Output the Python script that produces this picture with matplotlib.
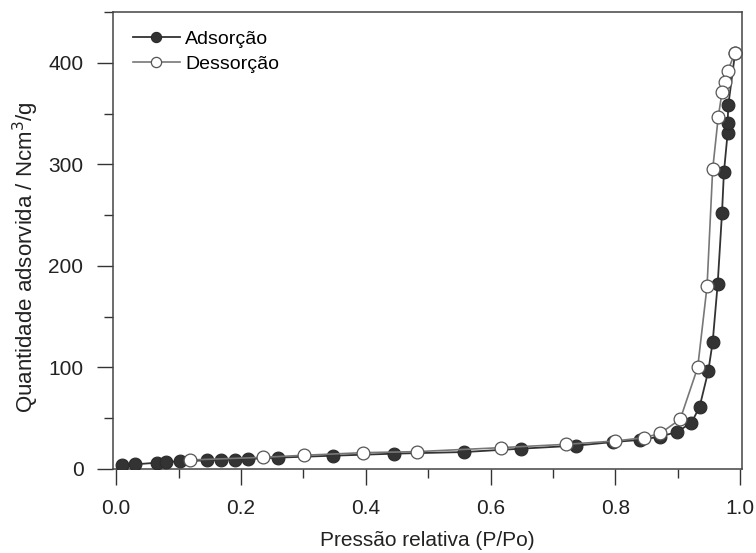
import matplotlib
matplotlib.use("Agg")
import matplotlib.pyplot as plt
from matplotlib.ticker import MultipleLocator

plt.rcParams['font.family'] = ['Liberation Sans', 'DejaVu Sans']

# Adsorption branch (P/Po, quantity)
ads_x = [0.010, 0.030, 0.066, 0.080, 0.103, 0.146, 0.168, 0.191, 0.212, 0.260,
         0.348, 0.446, 0.558, 0.649, 0.737, 0.797, 0.839, 0.871, 0.899, 0.922,
         0.935, 0.949, 0.956, 0.964, 0.971, 0.974, 0.980, 0.980, 0.981, 0.992]
ads_y = [3.6, 4.6, 6.2, 6.9, 7.5, 8.6, 9.2, 9.2, 9.9, 11.2,
         13.1, 15.1, 16.7, 20.0, 23.0, 26.6, 28.6, 31.8, 36.5, 45.6,
         61.1, 96.5, 125, 182, 252.5, 292, 331, 341, 358, 410]

# Desorption branch
des_x = [0.992, 0.980, 0.975, 0.971, 0.965, 0.956, 0.947, 0.932, 0.904, 0.872,
         0.846, 0.800, 0.721, 0.616, 0.482, 0.396, 0.301, 0.235, 0.119]
des_y = [410, 392, 381, 371, 347, 295, 180, 100, 49.0, 35.1,
         30.8, 27.6, 24.3, 21.0, 17.1, 16.1, 13.5, 11.5, 8.9]

xticks = [0.0, 0.2, 0.4, 0.6, 0.8, 1.0]
xtick_labels = ['0.0', '0.2', '0.4', '0.6', '0.8', '1.0']
yticks = [0, 100, 200, 300, 400]

fig = plt.figure(figsize=(7.56, 5.53), dpi=100)
ax = fig.add_axes([113/756, 1 - 469/553, (742 - 113)/756, (469 - 12)/553])

ax.plot(ads_x, ads_y, '-o', color='#333333', lw=1.3, ms=9.2,
        mfc='#333333', mec='#2a2a2a', mew=0.8, label='Adsorção', zorder=3)
ax.plot(des_x, des_y, '-o', color='#777777', lw=1.2, ms=9.2,
        mfc='white', mec='#555555', mew=0.9, label='Dessorção', zorder=4)

ax.set_xlim(-0.005, 1.003)
ax.set_ylim(0, 450)
ax.set_xticks(xticks)
ax.set_xticklabels(xtick_labels)
ax.set_yticks(yticks)
ax.xaxis.set_minor_locator(MultipleLocator(0.1))
ax.yaxis.set_minor_locator(MultipleLocator(50))

ax.tick_params(which='major', direction='out', length=11.8, width=1.0,
               labelsize=15, colors='#333333', pad=9.5)
ax.tick_params(which='minor', direction='out', length=6.8, width=1.0,
               colors='#333333')
ax.tick_params(axis='both', labelcolor='#222222')
ax.tick_params(top=False, right=False)

for s in ax.spines.values():
    s.set_color('#444444')
    s.set_linewidth(1.1)

ax.set_xlabel('Pressão relativa (P/Po)', fontsize=15, color='#222222', labelpad=9.5)
ax.set_ylabel('Quantidade adsorvida / Ncm$^3$/g', fontsize=16, color='#222222')
ax.yaxis.set_label_coords(-0.1137, 0.464)

ax.legend(loc='upper left', frameon=False, fontsize=14, markerscale=0.8,
          handlelength=2.4, handletextpad=0.3, labelspacing=0.4,
          borderaxespad=0.3, bbox_to_anchor=(0.01, 0.99))

fig.savefig('out.png', dpi=100)
